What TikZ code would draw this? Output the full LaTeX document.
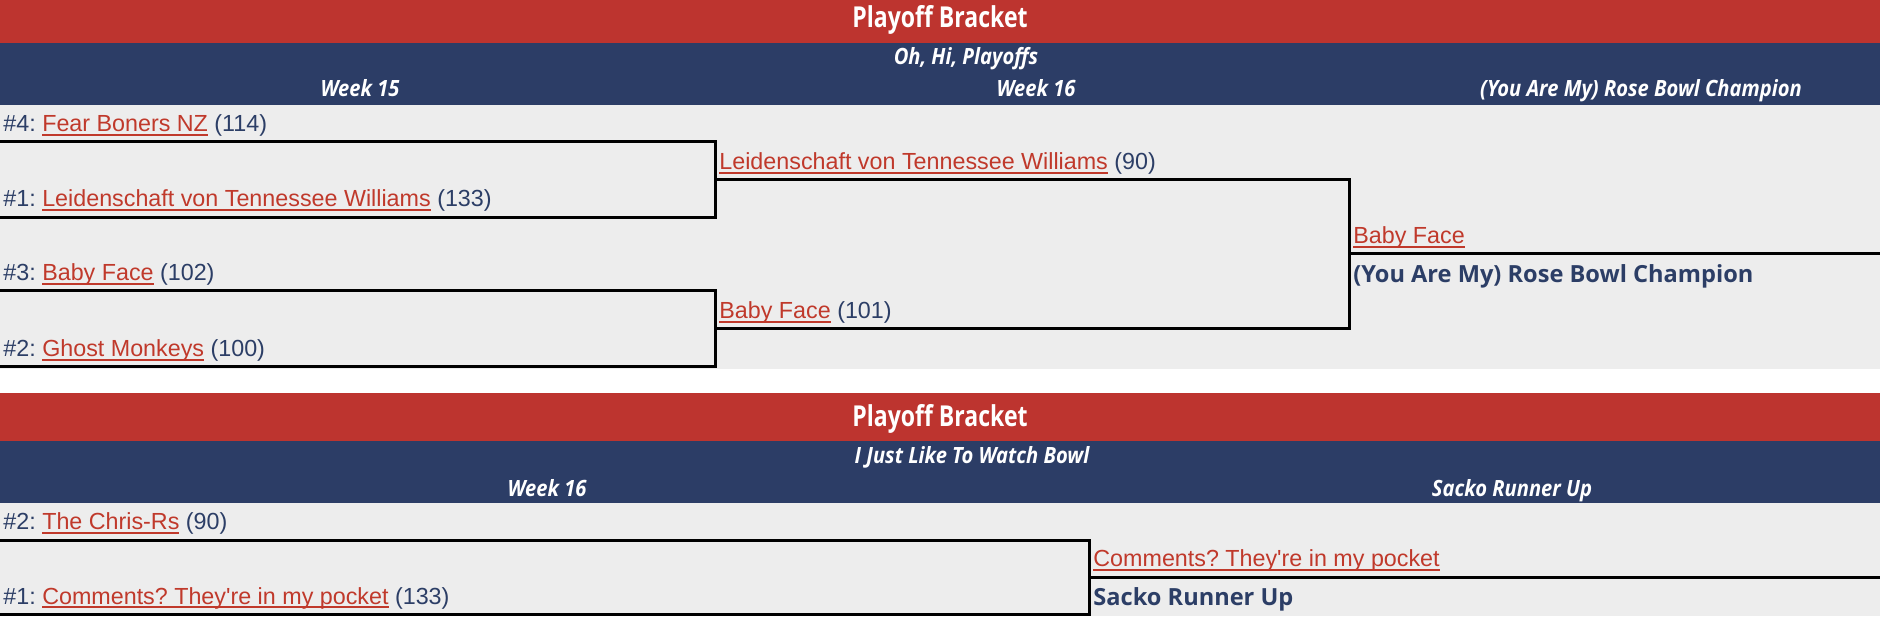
\documentclass[tikz,border=0pt]{standalone}
\usepackage{fontspec}
\setmainfont{Liberation Sans}
\newfontfamily\headfont[FakeStretch=0.8]{Open Sans}
\newfontfamily\subfont[FakeStretch=0.9]{Open Sans}
\newfontfamily\winfont{Open Sans}
\definecolor{hdred}{HTML}{BD342F}
\definecolor{hdblue}{HTML}{2C3D66}
\definecolor{rowgray}{HTML}{EDEDED}
\definecolor{lnkred}{HTML}{C0392B}
\definecolor{txtblue}{HTML}{2C3E66}
\newsavebox{\lnkbox}
\newcommand{\lnk}[1]{\textcolor{lnkred}{\sbox{\lnkbox}{#1}\rlap{\rule[-2.1pt]{\wd\lnkbox}{1pt}}\usebox{\lnkbox}}}
\frenchspacing

\begin{document}
\begin{tikzpicture}[x=0.5pt, y=-0.5pt,
  ttl/.style={anchor=base, inner sep=0pt, text=white, font=\headfont\bfseries\fontsize{14.4}{16}\selectfont},
  hd/.style={anchor=base, inner sep=0pt, text=white, font=\subfont\bfseries\itshape\fontsize{11.2}{13}\selectfont},
  team/.style={anchor=base west, inner sep=0pt, text=txtblue, font=\fontsize{11.65}{13}\selectfont},
  win/.style={anchor=base west, inner sep=0pt, text=txtblue, font=\winfont\bfseries\fontsize{11.8}{13}\selectfont},
  brk/.style={line width=1.5pt}]
\useasboundingbox (0,0) rectangle (1880,630);
\fill[white] (0,0) rectangle (1880,630);
\fill[hdred] (0,0) rectangle (1880,43);
\fill[hdblue] (0,43) rectangle (1880,105);
\fill[rowgray] (0,105) rectangle (1880,369);
\fill[hdred] (0,393) rectangle (1880,441);
\fill[hdblue] (0,441) rectangle (1880,503);
\fill[rowgray] (0,503) rectangle (1880,616);

\node[ttl] (title1) at (940,28) {Playoff Bracket};
\node[hd] (bowl1) at (966,65) {Oh, Hi, Playoffs};
\node[hd] (wk15) at (360,97) {Week 15};
\node[hd] (wk16a) at (1036,97) {Week 16};
\node[hd] (champ) at (1641,97) {(You Are My) Rose Bowl Champion};

\node[team] (s4) at (3,132) {\#4: \lnk{Fear Boners NZ} (114)};
\node[team] (s1) at (3,207) {\#1: \lnk{Leidenschaft von Tennessee Williams} (133)};
\node[team] (s3) at (3,281) {\#3: \lnk{Baby Face} (102)};
\node[team] (s2) at (3,357) {\#2: \lnk{Ghost Monkeys} (100)};
\node[team] (r2a) at (719,170) {\lnk{Leidenschaft von Tennessee Williams} (90)};
\node[team] (r2b) at (719,319) {\lnk{Baby Face} (101)};
\node[team] (fin) at (1353,244) {\lnk{Baby Face}};
\node[win] (finlbl) at (1353,283) {(You Are My) Rose Bowl Champion};

\coordinate (l4) at (0,142);
\coordinate (r1) at (715,218);
\coordinate (l1) at (0,218);
\coordinate (l3) at (0,291);
\coordinate (r2) at (715,367);
\coordinate (l2) at (0,367);
\coordinate (ma) at (715,180);
\coordinate (mc) at (1349,329);
\coordinate (mb) at (715,329);
\coordinate (fe) at (1880,254);
\draw[brk] (l4) -| (r1) -- (l1);
\draw[brk] (l3) -| (r2) -- (l2);
\draw[brk] (ma) -| (mc) -- (mb);
\draw[brk] (fe) -| (mc);

\node[ttl] (title2) at (940,427) {Playoff Bracket};
\node[hd] (bowl2) at (972,464) {I Just Like To Watch Bowl};
\node[hd] (wk16b) at (547,497) {Week 16};
\node[hd] (sacko) at (1512,497) {Sacko Runner Up};

\node[team] (t2) at (3,530) {\#2: \lnk{The Chris-Rs} (90)};
\node[team] (t1) at (3,604) {\#1: \lnk{Comments? They\textquotesingle re in my pocket} (133)};
\node[team] (sfin) at (1093,567) {\lnk{Comments? They\textquotesingle re in my pocket}};
\node[win] (sfinlbl) at (1093,605) {Sacko Runner Up};

\coordinate (k2) at (0,541);
\coordinate (kr) at (1089,614);
\coordinate (k1) at (0,614);
\coordinate (ke) at (1880,577);
\draw[brk] (k2) -| (kr) -- (k1);
\draw[brk] (ke) -| (kr);
\end{tikzpicture}
\end{document}
